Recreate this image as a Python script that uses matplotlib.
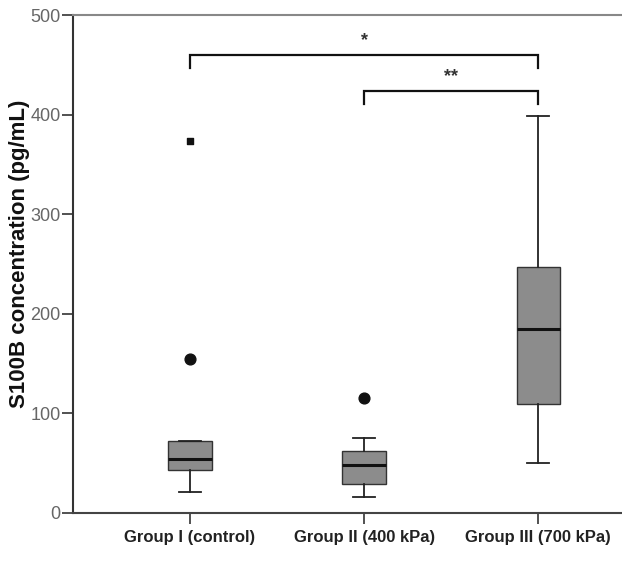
import matplotlib
matplotlib.use("Agg")
import matplotlib.pyplot as plt

plt.rcParams['font.family'] = ['Liberation Sans', 'DejaVu Sans']

groups = ["Group I (control)", "Group II (400 kPa)", "Group III (700 kPa)"]
whislo = [21, 16, 50]
q1 = [43, 29, 109]
med = [54, 48, 185]
q3 = [72, 62, 247]
whishi = [72, 75, 399]
outlier_group = [1, 2]
outlier_vals = [155, 115]
extreme_group = [1]
extreme_vals = [373]
brackets = [(1, 3, 460, "*"), (2, 3, 424, "**")]
yticks = [0, 100, 200, 300, 400, 500]

fig = plt.figure(figsize=(6.22, 5.62), dpi=100)
ax = fig.add_axes([0.1174, 0.0872, 0.8826, 0.8861])

stats = []
for i, g in enumerate(groups):
    stats.append(dict(label=g, whislo=whislo[i], q1=q1[i], med=med[i],
                      q3=q3[i], whishi=whishi[i], fliers=[]))

ax.bxp(stats, positions=[1, 2, 3], widths=0.25, patch_artist=True,
       showfliers=False,
       boxprops=dict(facecolor='#8c8c8c', edgecolor='#333333', linewidth=1.0),
       medianprops=dict(color='#111111', linewidth=2.2),
       whiskerprops=dict(color='#222222', linewidth=1.3),
       capprops=dict(color='#222222', linewidth=1.3),
       capwidths=0.125)

ax.scatter(outlier_group, outlier_vals, s=60, marker='o', color='#111111', zorder=5)
ax.scatter(extreme_group, extreme_vals, s=22, marker='s', color='#111111', zorder=5)

for x1, x2, y, lab in brackets:
    h = 13
    ax.plot([x1, x1, x2, x2], [y - h, y, y, y - h], color='#111111', lw=1.6,
            solid_joinstyle='miter', clip_on=False)
    ax.text((x1 + x2) / 2, y + 6, lab, ha='center', va='bottom',
            fontsize=13, fontweight='bold', color='#333333')

ax.set_xlim(0.33, 3.48)
ax.set_ylim(0, 500)
ax.set_yticks(yticks)
ax.set_yticklabels([str(v) for v in yticks], fontsize=13, color='#666666')
ax.set_xticks([1, 2, 3])
ax.set_xticklabels(groups, fontsize=12, fontweight='bold', color='#222222')
ax.tick_params(axis='both', direction='out', length=8, width=1.2, color='#333333')
ax.tick_params(axis='y', pad=1)
ax.tick_params(axis='x', pad=4)

ax.spines['right'].set_visible(False)
ax.spines['top'].set_color('#888888')
ax.spines['top'].set_linewidth(1.5)
ax.spines['left'].set_color('#333333')
ax.spines['left'].set_linewidth(1.5)
ax.spines['bottom'].set_color('#444444')
ax.spines['bottom'].set_linewidth(1.5)

ax.set_ylabel("S100B concentration (pg/mL)", fontsize=16, fontweight='bold',
              color='#111111', labelpad=4)
ax.yaxis.set_label_coords(-0.078, 0.52)

fig.savefig("out.png", dpi=100)
